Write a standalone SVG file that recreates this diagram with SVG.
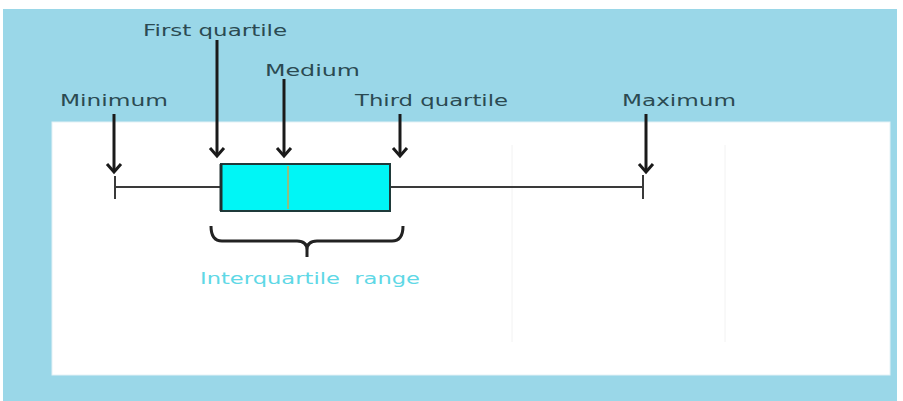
<svg xmlns="http://www.w3.org/2000/svg" width="903" height="401" viewBox="0 0 903 401">
<defs>
<style>
.lbl{font-family:"DejaVu Sans","Open Sans",sans-serif;font-size:16px;fill:#2b4a52}
.arr{stroke:#1a1a1a;stroke-width:3;fill:none}
.ah{fill:none;stroke:#1a1a1a;stroke-width:3}
.wh{stroke:#3a3a3a;stroke-width:2;fill:none}
.iqr{font-family:"DejaVu Sans","Open Sans",sans-serif;font-size:15px;fill:#5fd8e6}
</style>
</defs>
<rect x="0" y="0" width="903" height="401" fill="#ffffff"/>
<rect x="3" y="9" width="894" height="392" fill="#9ad7e8"/>
<rect x="52" y="122" width="838" height="253" fill="#ffffff" stroke="#e4f2f6" stroke-width="1"/>
<line x1="512" y1="145" x2="512" y2="342" stroke="#f2f2f2" stroke-width="1"/>
<line x1="725" y1="145" x2="725" y2="342" stroke="#f2f2f2" stroke-width="1"/>

<g id="labels">
<text class="lbl" x="143" y="36" textLength="144" lengthAdjust="spacingAndGlyphs">First quartile</text>
<text class="lbl" x="265" y="76" textLength="95" lengthAdjust="spacingAndGlyphs">Medium</text>
<text class="lbl" x="60" y="106" textLength="108" lengthAdjust="spacingAndGlyphs">Minimum</text>
<text class="lbl" x="355" y="106" textLength="153" lengthAdjust="spacingAndGlyphs">Third quartile</text>
<text class="lbl" x="622" y="106" textLength="114" lengthAdjust="spacingAndGlyphs">Maximum</text>
</g>

<g id="connectors">
<line class="arr" x1="217" y1="40" x2="217" y2="156"/>
<polyline class="ah" points="210,148 217,156 224,148"/>
<line class="arr" x1="284" y1="79" x2="284" y2="156"/>
<polyline class="ah" points="277,148 284,156 291,148"/>
<line class="arr" x1="114" y1="114" x2="114" y2="172"/>
<polyline class="ah" points="107,164 114,172 121,164"/>
<line class="arr" x1="400" y1="114" x2="400" y2="156"/>
<polyline class="ah" points="393,148 400,156 407,148"/>
<line class="arr" x1="646" y1="114" x2="646" y2="172"/>
<polyline class="ah" points="639,164 646,172 653,164"/>
</g>

<g id="boxplot">
<line class="wh" x1="115" y1="187" x2="220" y2="187"/>
<line class="wh" x1="390" y1="187" x2="643" y2="187"/>
<line class="wh" x1="115" y1="176" x2="115" y2="199"/>
<line class="wh" x1="643" y1="175" x2="643" y2="199"/>
<rect x="221" y="164" width="169" height="47" fill="#00f6f6" stroke="#1f3a3a" stroke-width="2"/>
<line x1="221" y1="164" x2="221" y2="211" stroke="#1f2f2f" stroke-width="3"/>
<line x1="288" y1="166" x2="288" y2="209" stroke="#8fbf80" stroke-width="2"/>
</g>

<g id="brace">
<path d="M211,226 Q211,241 222,241 L297,241 Q307,241 307,250 L307,257 M307,250 Q307,241 317,241 L392,241 Q403,241 403,226" fill="none" stroke="#222" stroke-width="3"/>
<text class="iqr" x="200" y="284" textLength="220" lengthAdjust="spacingAndGlyphs">Interquartile&#160; range</text>
</g>
</svg>
